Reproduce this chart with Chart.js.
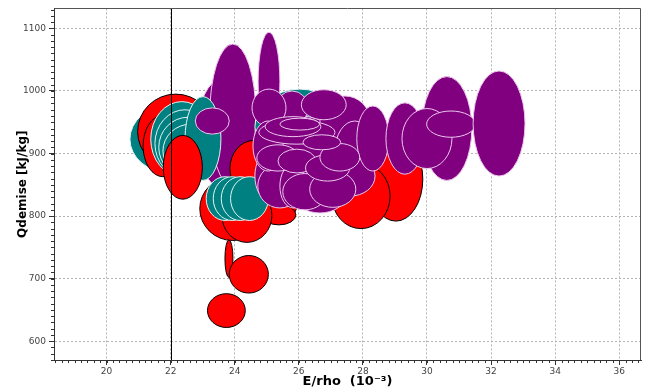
<!DOCTYPE html>
<html>
<head>
<meta charset="utf-8">
<script src="https://cdn.jsdelivr.net/npm/chart.js@4/dist/chart.umd.min.js"></script>
<style>
  html, body { margin: 0; padding: 0; background: #fff; }
  #wrap { width: 652px; height: 391px; }
</style>
</head>
<body>
<div id="wrap"><canvas id="c" width="652" height="391"></canvas></div>
<script>
// Each record: [E/rho (1e-3), Qdemise (kJ/kg), half-width in E/rho, half-height in kJ/kg]
const purpleBack = [
  [23.60, 932, 0.78, 87],
  [23.94, 961, 0.72, 114],
  [25.07, 1015, 0.34, 79]
];
const tealBack = [
  [26.03, 943, 1.40, 60]
];
const tealFar = [
  [21.98, 923, 1.25, 54]
];
const redUpper = [
  [22.16, 935, 1.19, 60],
  [21.76, 912, 0.62, 49]
];
const tealStack = [
  [22.35, 923, 0.97, 60],
  [22.45, 916, 0.94, 54],
  [22.54, 910, 0.91, 48],
  [22.63, 904, 0.87, 43],
  [23.01, 924, 0.56, 67]
];
const redFront = [
  [22.38, 878, 0.61, 51]
];
const purpleSmall = [
  [23.30, 952, 0.53, 21]
];
const redLower = [
  [24.60, 876, 0.75, 45],
  [25.41, 824, 0.56, 32],
  [25.10, 840, 0.37, 32],
  [25.38, 802, 0.53, 16],
  [23.94, 812, 1.03, 51],
  [24.38, 801, 0.78, 43],
  [23.82, 732, 0.125, 30],
  [24.44, 707, 0.61, 30],
  [23.74, 649, 0.59, 27]
];
const tealLower = [
  [23.70, 828, 0.59, 35],
  [23.92, 828, 0.59, 35],
  [24.17, 828, 0.59, 35],
  [24.46, 828, 0.59, 35]
];
const redRight = [
  [29.03, 859, 0.84, 67],
  [27.94, 832, 0.91, 52]
];
const purpleCluster = [
  [26.03, 904, 1.40, 56],
  [26.66, 848, 1.09, 40],
  [25.79, 973, 0.50, 27],
  [27.44, 952, 0.78, 40],
  [27.75, 904, 0.62, 48],
  [27.60, 864, 0.78, 32],
  [25.10, 864, 0.47, 40],
  [25.41, 848, 0.69, 35],
  [26.66, 832, 0.78, 27],
  [28.31, 924, 0.50, 52],
  [25.07, 973, 0.53, 30],
  [26.78, 978, 0.70, 24],
  [25.04, 912, 0.47, 40],
  [25.82, 848, 0.41, 35],
  [26.19, 839, 0.69, 29],
  [27.06, 843, 0.72, 29],
  [25.35, 893, 0.66, 21],
  [25.94, 888, 0.59, 19],
  [26.90, 877, 0.69, 21],
  [27.28, 894, 0.62, 22],
  [25.94, 934, 1.19, 19],
  [25.82, 943, 0.87, 16],
  [26.03, 947, 0.62, 9.5],
  [26.72, 918, 0.59, 12]
];
const purpleRight = [
  [29.31, 924, 0.59, 57],
  [30.62, 940, 0.78, 83],
  [30.00, 924, 0.78, 48],
  [30.75, 947, 0.76, 21],
  [32.25, 948, 0.81, 84]
];

const xTicks = [20, 22, 24, 26, 28, 30, 32, 34, 36];
const yTicks = [600, 700, 800, 900, 1000, 1100];
const refLineX = 22;

const RED = '#ff0000', TEAL = '#008080', PURPLE = '#800080';
const RED_EDGE = '#000000', TEAL_EDGE = '#e4f4f4', PURPLE_EDGE = '#ecc8ec';

const toPoints = arr => arr.map(([x, y, w, h]) => ({ x, y, w, h }));
const group = (label, arr, fill, edge) => ({
  label, data: toPoints(arr), backgroundColor: fill, borderColor: edge,
  pointRadius: 0, pointHoverRadius: 0, showLine: false
});

// Ellipses are drawn in dataset order, centred and sized through the chart's scales.
const ellipsePlugin = {
  id: 'ellipses',
  afterDatasetsDraw(chart) {
    const { ctx, chartArea: a, scales: { x, y } } = chart;
    ctx.save();
    ctx.beginPath();
    ctx.rect(a.left, a.top, a.right - a.left, a.bottom - a.top);
    ctx.clip();
    chart.data.datasets.forEach(ds => {
      ds.data.forEach(p => {
        const cx = x.getPixelForValue(p.x), cy = y.getPixelForValue(p.y);
        const rx = Math.abs(x.getPixelForValue(p.x + p.w) - cx);
        const ry = Math.abs(y.getPixelForValue(p.y + p.h) - cy);
        ctx.beginPath();
        ctx.ellipse(cx, cy, rx, ry, 0, 0, Math.PI * 2);
        ctx.fillStyle = ds.backgroundColor;
        ctx.fill();
        ctx.lineWidth = 1;
        ctx.strokeStyle = ds.borderColor;
        ctx.stroke();
      });
    });
    // vertical reference line
    const rx = Math.round(x.getPixelForValue(refLineX)) + 0.5;
    ctx.beginPath();
    ctx.moveTo(rx, a.top);
    ctx.lineTo(rx, a.bottom);
    ctx.strokeStyle = '#000';
    ctx.lineWidth = 1;
    ctx.stroke();
    ctx.restore();
  },
  afterDraw(chart) {
    const { ctx, chartArea: a, scales: { x, y } } = chart;
    ctx.save();
    ctx.strokeStyle = '#333';
    ctx.lineWidth = 1;
    // minor ticks
    ctx.beginPath();
    for (let i = Math.ceil(x.min * 5); i <= Math.floor(x.max * 5); i++) {
      const px = Math.round(x.getPixelForValue(i / 5)) + 0.5;
      ctx.moveTo(px, a.bottom);
      ctx.lineTo(px, a.bottom + 3);
    }
    for (let i = Math.ceil(y.min / 10); i <= Math.floor(y.max / 10); i++) {
      const py = Math.round(y.getPixelForValue(i * 10)) + 0.5;
      ctx.moveTo(a.left, py);
      ctx.lineTo(a.left - 3, py);
    }
    ctx.stroke();
    // frame top and right
    ctx.strokeStyle = '#555';
    ctx.beginPath();
    ctx.moveTo(Math.round(a.left) + 0.5, Math.round(a.top) + 0.5);
    ctx.lineTo(Math.round(a.right) - 0.5, Math.round(a.top) + 0.5);
    ctx.lineTo(Math.round(a.right) - 0.5, Math.round(a.bottom));
    ctx.stroke();
    ctx.restore();
  }
};

new Chart(document.getElementById('c'), {
  type: 'scatter',
  data: {
    datasets: [
      group('purpleBack', purpleBack, PURPLE, PURPLE_EDGE),
      group('tealBack', tealBack, TEAL, TEAL_EDGE),
      group('tealFar', tealFar, TEAL, TEAL_EDGE),
      group('redUpper', redUpper, RED, RED_EDGE),
      group('tealStack', tealStack, TEAL, TEAL_EDGE),
      group('redFront', redFront, RED, RED_EDGE),
      group('purpleSmall', purpleSmall, PURPLE, PURPLE_EDGE),
      group('redLower', redLower, RED, RED_EDGE),
      group('tealLower', tealLower, TEAL, TEAL_EDGE),
      group('redRight', redRight, RED, RED_EDGE),
      group('purpleCluster', purpleCluster, PURPLE, PURPLE_EDGE),
      group('purpleRight', purpleRight, PURPLE, PURPLE_EDGE)
    ]
  },
  options: {
    responsive: false,
    animation: false,
    events: [],
    layout: { padding: { left: 0, right: 11, top: 6, bottom: 0 } },
    plugins: { legend: { display: false }, tooltip: { enabled: false } },
    scales: {
      x: {
        type: 'linear',
        min: 18.36,
        max: 36.68,
        afterBuildTicks: s => { s.ticks = xTicks.map(v => ({ value: v })); },
        afterFit: s => { s.height = 31; },
        grid: { color: '#b4b4b4', tickColor: '#333', tickLength: 5, drawTicks: true },
        border: { display: true, color: '#333', width: 1, dash: [2, 2] },
        ticks: { color: '#444', font: { family: 'DejaVu Sans', size: 9 }, padding: 1, maxRotation: 0,
                 callback: v => String(v) },
        title: {
          display: true, text: 'E/rho  (10⁻³)', color: '#000',
          font: { family: 'DejaVu Sans', size: 13, weight: 'bold' },
          padding: { top: 0, bottom: 2 }
        }
      },
      y: {
        type: 'linear',
        min: 570,
        max: 1132,
        afterBuildTicks: s => { s.ticks = yTicks.map(v => ({ value: v })); },
        afterFit: s => { s.width = 54; },
        grid: { color: '#b4b4b4', tickColor: '#333', tickLength: 5, drawTicks: true },
        border: { display: true, color: '#333', width: 1, dash: [2, 2] },
        ticks: { color: '#444', font: { family: 'DejaVu Sans', size: 9 }, padding: 3,
                 callback: v => String(v) },
        title: {
          display: true, text: 'Qdemise [kJ/kg]', color: '#000',
          font: { family: 'DejaVu Sans', size: 12, weight: 'bold' },
          padding: { top: 16, bottom: 0 }
        }
      }
    }
  },
  plugins: [ellipsePlugin]
});
</script>
</body>
</html>
